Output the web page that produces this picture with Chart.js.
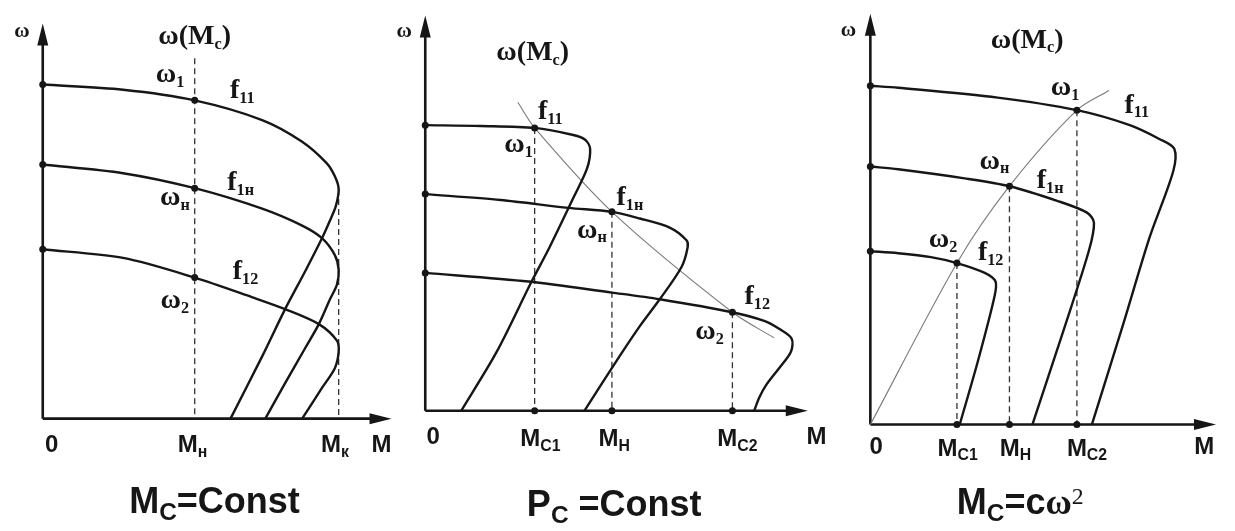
<!DOCTYPE html>
<html>
<head>
<meta charset="utf-8">
<script src="https://cdn.jsdelivr.net/npm/chart.js@4.4.1/dist/chart.umd.min.js"></script>
<style>
  body { margin: 0; background: #fff; }
  #wrap { position: relative; width: 1235px; height: 531px; }
  canvas { position: absolute; left: 0; top: 0; }
</style>
</head>
<body>
<div id="wrap">
  <canvas id="c1" width="1235" height="531"></canvas>
  <canvas id="c2" width="1235" height="531"></canvas>
  <canvas id="c3" width="1235" height="531"></canvas>
</div>
<script>
// values are [M, omega] (arbitrary units)

// ---- panel 1 : Mc = Const ----
const p1_f11 = [[0,8.48],[2.31,8.35],[4.37,8.08],[6.31,7.58],[7.46,7.03],[8.17,6.48],[8.40,6.15],[8.51,5.83],[8.43,5.40],[8.26,5.03],[8.03,4.58],[7.54,3.73],[6.97,2.78],[6.31,1.58],[5.40,0]];
const p1_f1n = [[0,6.45],[2.31,6.23],[4.37,5.85],[6.31,5.33],[7.46,4.90],[8.03,4.58],[8.40,4.15],[8.51,3.78],[8.46,3.40],[8.26,3.03],[7.94,2.40],[7.54,1.78],[6.97,0.90],[6.40,0]];
const p1_f12 = [[0,4.30],[2.31,4.08],[4.37,3.58],[6.03,3.08],[6.97,2.78],[7.94,2.40],[8.46,1.98],[8.51,1.70],[8.40,1.28],[8.03,0.78],[7.46,0]];
const p1_dashed = [[4.37,9.15],[8.51,5.83]];
const p1_dots = [[0,8.48],[0,6.45],[0,4.30],[4.37,8.08],[4.37,5.85],[4.37,3.58]];
const p1_labels = [
  ['ω',-0.60,9.83,'gs'],['ω(M_{c})',4.37,9.70,'g'],['ω_{1}',3.66,8.73,'g'],['f_{11}',5.74,8.33,'g'],
  ['f_{1н}',5.69,5.98,'g'],['ω_{н}',3.80,5.60,'g'],['f_{12}',5.83,3.73,'g'],['ω_{2}',3.80,2.98,'g'],
  ['0',0.26,-0.68,'a'],['M_{н}',4.31,-0.68,'a'],['M_{к}',8.40,-0.68,'a'],['M',9.74,-0.68,'a'],
  ['M_{C}=Const',4.94,-2.15,'t']
];

// ---- panel 2 : Pc = Const ----
const p2_f11 = [[0,7.25],[1.45,7.23],[2.86,7.18],[3.87,7.00],[4.18,6.88],[4.31,6.65],[4.23,6.15],[3.87,5.40],[3.25,4.15],[2.78,3.28],[1.87,1.50],[0.94,0]];
const p2_f1n = [[0,5.50],[1.97,5.35],[3.74,5.15],[4.88,5.05],[5.61,4.88],[6.39,4.65],[6.83,4.33],[6.86,4.15],[6.70,3.65],[6.13,2.83],[5.61,2.15],[5.09,1.40],[4.16,0]];
const p2_f12 = [[0,3.50],[2.70,3.28],[4.88,3.00],[6.13,2.83],[8.03,2.50],[8.86,2.28],[9.25,2.08],[9.58,1.83],[9.56,1.50],[9.25,1.08],[8.91,0.65],[8.73,0.33],[8.60,0]];
const p2_load = [[2.42,7.83],[2.86,7.18],[4.88,5.05],[8.03,2.50],[9.12,1.85]];
const p2_dashed = [[2.86,7.18],[4.88,5.05],[8.03,2.50]];
const p2_dots = [[0,7.25],[0,5.50],[0,3.50],[2.86,7.18],[4.88,5.05],[8.03,2.50],[2.86,0],[4.88,0],[8.03,0]];
const p2_labels = [
  ['ω',-0.55,9.63,'gs'],['ω(M_{c})',2.81,9.08,'g'],['f_{11}',3.27,7.58,'g'],['ω_{1}',2.44,6.75,'g'],
  ['f_{1н}',5.35,5.40,'g'],['ω_{н}',4.36,4.58,'g'],['f_{12}',8.68,2.90,'g'],['ω_{2}',7.43,2.00,'g'],
  ['0',0.21,-0.68,'a'],['M_{C1}',3.01,-0.73,'a'],['M_{Н}',4.94,-0.73,'a'],['M_{C2}',8.16,-0.73,'a'],['M',10.23,-0.68,'a'],
  ['P_{C} =Const',4.94,-2.43,'t']
];

// ---- panel 3 : Mc = c·ω² ----
const p3_f11 = [[0,8.60],[0.80,8.55],[3.66,8.30],[5.94,7.98],[7.46,7.60],[8.31,7.25],[8.74,7.00],[8.71,6.43],[8.03,4.75],[7.29,2.60],[6.37,0]];
const p3_f1n = [[0,6.55],[0.80,6.48],[2.71,6.25],[4.00,6.05],[5.37,5.68],[6.23,5.38],[6.43,5.13],[6.29,4.43],[5.57,2.43],[4.66,0]];
const p3_f12 = [[0,4.40],[0.80,4.35],[1.74,4.25],[2.49,4.10],[3.29,3.85],[3.60,3.63],[3.57,3.25],[3.09,1.60],[2.57,0]];
const p3_load = [[0,0],[2.49,4.10],[4.00,6.05],[5.94,7.98],[6.86,8.48]];
const p3_dashed = [[2.49,4.10],[4.00,6.05],[5.94,7.98]];
const p3_dots = [[0,8.60],[0,6.55],[0,4.40],[2.49,4.10],[4.00,6.05],[5.94,7.98],[2.49,0],[4.00,0],[5.94,0]];
const p3_labels = [
  ['ω',-0.63,10.0,'gs'],['ω(M_{c})',4.51,9.75,'g'],['ω_{1}',5.60,8.55,'g'],['f_{11}',7.66,8.10,'g'],
  ['ω_{н}',3.57,6.68,'g'],['f_{1н}',5.17,6.18,'g'],['ω_{2}',2.09,4.68,'g'],['f_{12}',3.46,4.35,'g'],
  ['0',0.17,-0.58,'a'],['M_{C1}',2.51,-0.63,'a'],['M_{Н}',4.17,-0.63,'a'],['M_{C2}',6.23,-0.63,'a'],['M',9.60,-0.58,'a'],
  ['M_{C}=c~{ω}^{2}',4.31,-2.03,'t']
];

// where each panel's origin sits on the page and how many px per unit
const frames = [
  {ox: 39,  oy: 421, kx: 35,   ky: 40, mTip: 10.03, wTip: 10.03},
  {ox: 424, oy: 413, kx: 38.5, ky: 40, mTip: 10.0,  wTip: 10.03},
  {ox: 872, oy: 427, kx: 35,   ky: 40, mTip: 9.94,  wTip: 10.43}
];

const INK = '#161616';
const SERIF = '"Liberation Serif", "Times New Roman", serif';
const SANS = '"Liberation Sans", Arial, sans-serif';
const styles = {
  g:  {family: SERIF, size: 28, sub: 0.58},
  gs: {family: SERIF, size: 21, sub: 0.6},
  a:  {family: SANS,  size: 24, sub: 0.66},
  t:  {family: SANS,  size: 36, sub: 0.68}
};

const xy = pts => pts.map(p => ({x: p[0], y: p[1]}));

function curve(pts) {
  return {data: xy(pts), showLine: true, pointRadius: 0, borderColor: INK, borderWidth: 2.4, tension: 0.3, order: 2};
}

function drawRich(ctx, text, x, y, st) {
  const segs = [];
  const re = /_\{([^}]*)\}|\^\{([^}]*)\}|~\{([^}]*)\}|([^_^~]+)/g;
  let m;
  while ((m = re.exec(text)) !== null) {
    if (m[1] !== undefined) segs.push({t: m[1], size: st.size * st.sub, dy: st.size * 0.28, fam: st.family, w8: 'bold'});
    else if (m[2] !== undefined) segs.push({t: m[2], size: st.size * 0.66, dy: -st.size * 0.2, fam: SERIF, w8: 'normal'});
    else if (m[3] !== undefined) segs.push({t: m[3], size: st.size, dy: 0, fam: SERIF, w8: 'bold'});
    else segs.push({t: m[4], size: st.size, dy: 0, fam: st.family, w8: 'bold'});
  }
  let total = 0;
  segs.forEach(s => {
    ctx.font = s.w8 + ' ' + s.size + 'px ' + s.fam;
    s.w = ctx.measureText(s.t).width;
    total += s.w;
  });
  let cx = x - total / 2;
  ctx.textBaseline = 'middle';
  ctx.textAlign = 'left';
  segs.forEach(s => {
    ctx.font = s.w8 + ' ' + s.size + 'px ' + s.fam;
    ctx.fillText(s.t, cx, y + s.dy);
    cx += s.w;
  });
}

function makePanel(id, fr, curves, load, dashed, dots, labels) {
  const datasets = [];
  datasets.push({data: xy(dots), showLine: false, pointRadius: 3.5, pointBackgroundColor: INK, pointBorderWidth: 0, order: 0});
  curves.forEach(c => datasets.push(curve(c)));
  if (load) datasets.push({data: xy(load), showLine: true, pointRadius: 0, borderColor: '#7a7a7a', borderWidth: 1.1, tension: 0.3, order: 3});
  dashed.forEach(d => datasets.push({
    data: [{x: d[0], y: d[1]}, {x: d[0], y: 0}], showLine: true, pointRadius: 0,
    borderColor: '#333', borderWidth: 1.3, borderDash: [6, 4], order: 4
  }));

  const axesAndText = {
    id: 'axesAndText' + id,
    beforeDatasetsDraw(chart) {
      const ctx = chart.ctx, xs = chart.scales.x, ys = chart.scales.y;
      const x0 = xs.getPixelForValue(0), y0 = ys.getPixelForValue(0);
      const xt = xs.getPixelForValue(fr.mTip), yt = ys.getPixelForValue(fr.wTip);
      ctx.save();
      ctx.strokeStyle = INK; ctx.fillStyle = INK; ctx.lineWidth = 2.6;
      ctx.beginPath();
      ctx.moveTo(x0, y0); ctx.lineTo(x0, yt + 16);
      ctx.moveTo(x0, y0); ctx.lineTo(xt - 16, y0);
      ctx.stroke();
      ctx.beginPath();
      ctx.moveTo(x0, yt); ctx.lineTo(x0 - 5.5, yt + 22); ctx.lineTo(x0 + 5.5, yt + 22); ctx.closePath();
      ctx.moveTo(xt, y0); ctx.lineTo(xt - 22, y0 - 5.5); ctx.lineTo(xt - 22, y0 + 5.5); ctx.closePath();
      ctx.fill();
      ctx.restore();
    },
    afterDraw(chart) {
      const ctx = chart.ctx, xs = chart.scales.x, ys = chart.scales.y;
      ctx.save();
      ctx.fillStyle = INK;
      labels.forEach(l => drawRich(ctx, l[0], xs.getPixelForValue(l[1]), ys.getPixelForValue(l[2]), styles[l[3]]));
      ctx.restore();
    }
  };

  return new Chart(document.getElementById(id), {
    type: 'scatter',
    data: {datasets: datasets},
    options: {
      responsive: false,
      animation: false,
      layout: {padding: 0},
      plugins: {legend: {display: false}, tooltip: {enabled: false}},
      elements: {line: {capBezierPoints: false}},
      scales: {
        x: {type: 'linear', display: false, min: -fr.ox / fr.kx, max: (1235 - fr.ox) / fr.kx},
        y: {type: 'linear', display: false, min: -(531 - fr.oy) / fr.ky, max: fr.oy / fr.ky}
      }
    },
    plugins: [axesAndText]
  });
}

makePanel('c1', frames[0], [p1_f11, p1_f1n, p1_f12], null, p1_dashed, p1_dots, p1_labels);
makePanel('c2', frames[1], [p2_f11, p2_f1n, p2_f12], p2_load, p2_dashed, p2_dots, p2_labels);
makePanel('c3', frames[2], [p3_f11, p3_f1n, p3_f12], p3_load, p3_dashed, p3_dots, p3_labels);
</script>
</body>
</html>
